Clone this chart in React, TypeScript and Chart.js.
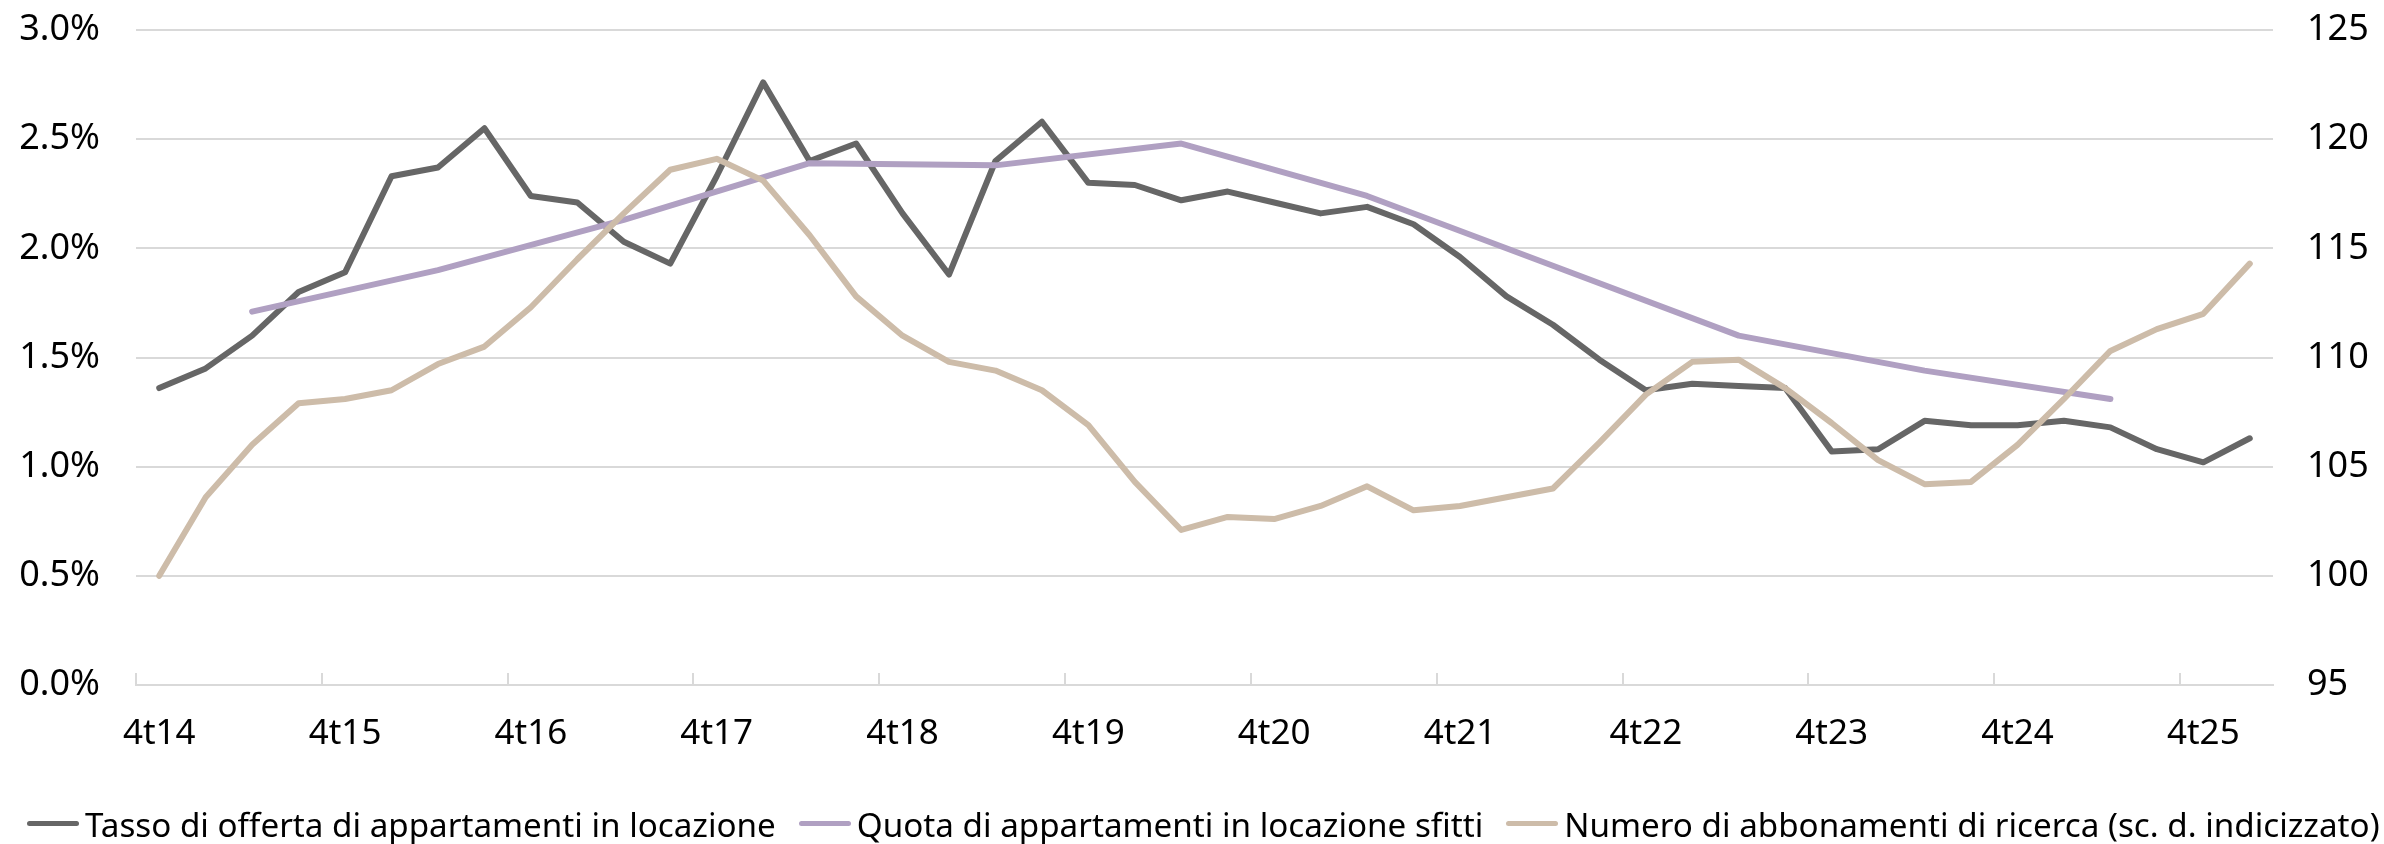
import React, { useEffect, useRef } from 'react';
import { Chart, registerables } from 'chart.js';

Chart.register(...registerables);

// ---- data ----
const quarters = [
  '4t14',
  '1t15', '2t15', '3t15', '4t15',
  '1t16', '2t16', '3t16', '4t16',
  '1t17', '2t17', '3t17', '4t17',
  '1t18', '2t18', '3t18', '4t18',
  '1t19', '2t19', '3t19', '4t19',
  '1t20', '2t20', '3t20', '4t20',
  '1t21', '2t21', '3t21', '4t21',
  '1t22', '2t22', '3t22', '4t22',
  '1t23', '2t23', '3t23', '4t23',
  '1t24', '2t24', '3t24', '4t24',
  '1t25', '2t25', '3t25', '4t25',
  '1t26',
];

// Tasso di offerta di appartamenti in locazione (%)
const offerRate = [
  1.36, 1.45, 1.60, 1.80, 1.89, 2.33, 2.37, 2.55, 2.24, 2.21,
  2.03, 1.93, 2.33, 2.76, 2.40, 2.48, 2.16, 1.88, 2.40, 2.58,
  2.30, 2.29, 2.22, 2.26, 2.21, 2.16, 2.19, 2.11, 1.96, 1.78,
  1.65, 1.49, 1.35, 1.38, 1.37, 1.36, 1.07, 1.08, 1.21, 1.19,
  1.19, 1.21, 1.18, 1.08, 1.02, 1.13,
];

// Quota di appartamenti in locazione sfitti (%), annual (2nd quarter)
const vacancyQuarters = ['2t15', '2t16', '2t17', '2t18', '2t19', '2t20', '2t21', '2t22', '2t23', '2t24', '2t25'];
const vacancyRate = [1.71, 1.90, 2.13, 2.39, 2.38, 2.48, 2.24, 1.92, 1.60, 1.44, 1.31];

// Numero di abbonamenti di ricerca (indice, scala destra)
const searchSubscriptions = [
  100.0, 103.6, 106.0, 107.9, 108.1, 108.5, 109.7, 110.5, 112.3, 114.5,
  116.6, 118.6, 119.1, 118.1, 115.6, 112.8, 111.0, 109.8, 109.4, 108.5,
  106.9, 104.3, 102.1, 102.7, 102.6, 103.2, 104.1, 103.0, 103.2, 103.6,
  104.0, 106.1, 108.3, 109.8, 109.9, 108.6, 107.0, 105.3, 104.2, 104.3,
  106.0, 108.1, 110.3, 111.3, 112.0, 114.3,
];

const seriesNames = [
  'Tasso di offerta di appartamenti in locazione',
  'Quota di appartamenti in locazione sfitti',
  'Numero di abbonamenti di ricerca (sc. d. indicizzato)',
];

const leftAxis = { min: 0, max: 3, step: 0.5 };
const rightAxis = { min: 95, max: 125, step: 5 };
const labelEvery = 4;

// ---- styles ----
const COLORS = {
  offer: '#666666',
  vacancy: '#b0a0c2',
  search: '#cdbca9',
  grid: '#d9d9d9',
  text: '#000000',
};
const FONT_FAMILY = '"Noto Sans", "Open Sans", sans-serif';
const W = 2384;
const H = 844;

const insideTicks = {
  id: 'insideTicks',
  beforeDatasetsDraw(chart: any) {
    const xs = chart.scales.x;
    const area = chart.chartArea;
    const ctx = chart.ctx;
    const step = xs.getPixelForValue(1) - xs.getPixelForValue(0);
    ctx.save();
    ctx.strokeStyle = COLORS.grid;
    ctx.lineWidth = 2;
    ctx.beginPath();
    for (let i = 0; i < quarters.length; i += labelEvery) {
      const px = Math.round(xs.getPixelForValue(i) - step / 2);
      ctx.moveTo(px, area.bottom);
      ctx.lineTo(px, area.bottom - 12);
    }
    ctx.stroke();
    ctx.restore();
  },
};

const clearPadding = (s: any) => {
  s.paddingTop = 0;
  s.paddingBottom = 0;
  s.paddingLeft = 0;
  s.paddingRight = 0;
};

export default function App() {
  const canvasRef = useRef<HTMLCanvasElement | null>(null);

  useEffect(() => {
    const canvas = canvasRef.current;
    if (!canvas) return;
    const lineCommon = {
      borderWidth: 6,
      pointRadius: 0,
      pointHoverRadius: 0,
      tension: 0,
      borderCapStyle: 'round' as const,
      borderJoinStyle: 'round' as const,
      fill: false,
    };
    const chart = new Chart(canvas, {
      type: 'line',
      data: {
        labels: quarters,
        datasets: [
          {
            ...lineCommon,
            label: seriesNames[0],
            data: offerRate,
            borderColor: COLORS.offer,
            backgroundColor: COLORS.offer,
            yAxisID: 'y',
            order: 2,
          },
          {
            ...lineCommon,
            label: seriesNames[1],
            data: vacancyQuarters.map((q, i) => ({ x: q, y: vacancyRate[i] })),
            borderColor: COLORS.vacancy,
            backgroundColor: COLORS.vacancy,
            yAxisID: 'y',
            order: 1,
          },
          {
            ...lineCommon,
            label: seriesNames[2],
            data: searchSubscriptions,
            borderColor: COLORS.search,
            backgroundColor: COLORS.search,
            yAxisID: 'y1',
            order: 0,
          },
        ],
      },
      options: {
        responsive: false,
        animation: false,
        devicePixelRatio: 1,
        events: [],
        layout: { padding: { top: 30, left: 0, right: 0, bottom: 0 } },
        plugins: {
          legend: { display: false },
          tooltip: { enabled: false },
        },
        scales: {
          x: {
            type: 'category',
            offset: true,
            grid: { display: false },
            border: { display: true, color: COLORS.grid, width: 2 },
            ticks: {
              autoSkip: false,
              maxRotation: 0,
              minRotation: 0,
              padding: 20,
              color: COLORS.text,
              font: { family: FONT_FAMILY, size: 35 },
              callback: (_v: any, idx: number) => (idx % labelEvery === 0 ? quarters[idx] : ''),
            },
            afterFit: (s: any) => {
              s.height = 159;
              clearPadding(s);
            },
          },
          y: {
            position: 'left',
            min: leftAxis.min,
            max: leftAxis.max,
            grid: {
              color: COLORS.grid,
              lineWidth: 2,
              drawTicks: false,
            },
            border: { display: false },
            ticks: {
              stepSize: leftAxis.step,
              padding: 36,
              color: COLORS.text,
              font: { family: FONT_FAMILY, size: 36 },
              callback: (v: any) => Number(v).toFixed(1) + '%',
            },
            afterFit: (s: any) => {
              s.width = 136;
              clearPadding(s);
            },
          },
          y1: {
            position: 'right',
            min: rightAxis.min,
            max: rightAxis.max,
            grid: { drawOnChartArea: false, drawTicks: false },
            border: { display: false },
            ticks: {
              stepSize: rightAxis.step,
              padding: 34,
              color: COLORS.text,
              font: { family: FONT_FAMILY, size: 36 },
              callback: (v: any) => String(v),
            },
            afterFit: (s: any) => {
              s.width = 111;
              clearPadding(s);
            },
          },
        },
      },
      plugins: [insideTicks],
    });
    return () => chart.destroy();
  }, []);

  const legendColors = [COLORS.offer, COLORS.vacancy, COLORS.search];

  return (
    <div
      style={{
        position: 'fixed',
        left: 0,
        top: 0,
        width: W,
        height: H,
        background: '#ffffff',
        overflow: 'hidden',
      }}
    >
      <canvas
        ref={canvasRef}
        width={W}
        height={H}
        style={{ position: 'absolute', left: 0, top: 0, width: W, height: H }}
      />
      <div
        style={{
          position: 'absolute',
          left: 27,
          top: 808,
          height: 33,
          display: 'flex',
          alignItems: 'center',
          fontFamily: FONT_FAMILY,
          fontSize: 33.2,
          lineHeight: '33px',
          color: COLORS.text,
          whiteSpace: 'nowrap',
        }}
      >
        {seriesNames.map((name, i) => (
          <div
            key={name}
            style={{ display: 'flex', alignItems: 'center', marginRight: i < seriesNames.length - 1 ? 23 : 0 }}
          >
            <span
              style={{
                display: 'inline-block',
                width: 52,
                height: 5,
                borderRadius: 3,
                background: legendColors[i],
                marginRight: 6,
                position: 'relative',
                top: -1,
              }}
            />
            <span>{name}</span>
          </div>
        ))}
      </div>
    </div>
  );
}
